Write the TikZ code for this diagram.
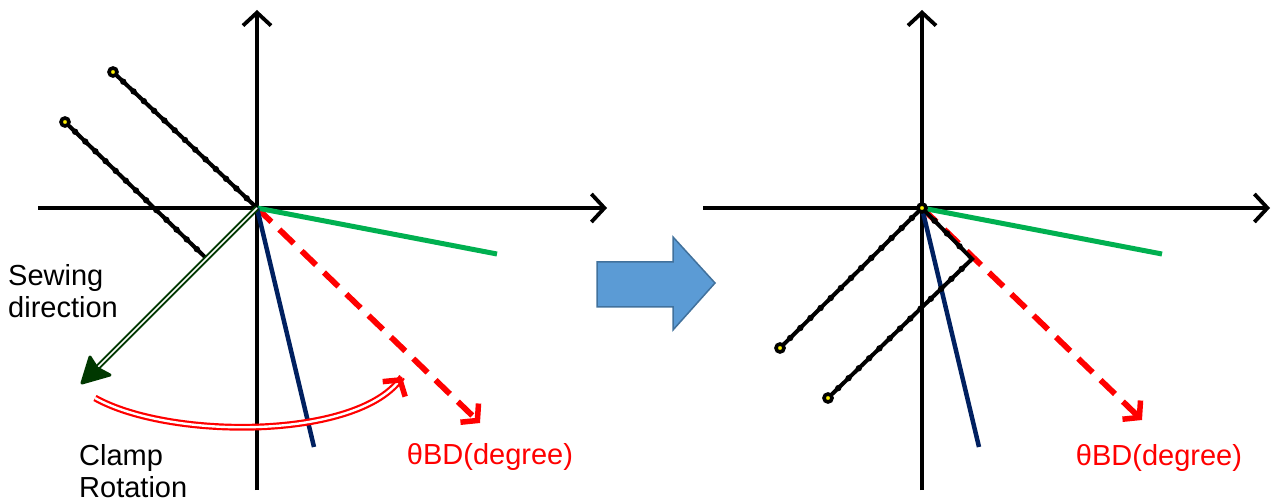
\documentclass[tikz,border=0pt]{standalone}
\usepackage{fontspec}
\setmainfont{Liberation Sans}
\usetikzlibrary{arrows.meta,calc}
\definecolor{linegreen}{RGB}{0,176,80}
\definecolor{linenavy}{RGB}{0,32,96}
\definecolor{sewgreen}{RGB}{0,56,0}
\definecolor{arrowfill}{RGB}{91,155,213}
\definecolor{arrowedge}{RGB}{65,113,156}
\tikzset{
  axis/.style={line width=3.8pt,-{Straight Barb[length=13pt,width=28pt,line width=3.8pt]}},
  seam/.style={line width=4pt,black},
  endpt/.style={fill=yellow,draw=black,line width=3.6pt},
  thetaline/.style={red,line width=5.8pt,dash pattern=on 20pt off 11pt,-{Straight Barb[length=11pt,width=26pt,line width=5.5pt]}},
  lbl/.style={font=\fontsize{29}{32}\selectfont,inner sep=0pt}
}
\begin{document}
\begin{tikzpicture}[x=1pt,y=-1pt]
\useasboundingbox (0,0) rectangle (1277,502);
\coordinate (O1) at (257,208);
\coordinate (O2) at (922,208);
\coordinate (sa1) at (113,72);
\coordinate (sb1) at (65,122);
\coordinate (sb2) at (207,259);
\coordinate (ra1) at (780,348);
\coordinate (rc) at (972,259);
\coordinate (rb2) at (828,398);
\coordinate (sewtip) at (82,383);
\coordinate (rot1) at (95,398);
\coordinate (rot2) at (402,377);

% axes
\draw[axis] (257,490) -- (257,10);
\draw[axis] (38,208) -- (607,208);
\draw[axis] (922,490) -- (922,10);
\draw[axis] (703,208) -- (1270,208);

% left panel
\draw[thetaline] (O1) -- (480,423);
\draw[linegreen,line width=5pt] (O1) -- (497,254);
\draw[linenavy,line width=4.5pt] (O1) -- (314,447);
\draw[seam] (sa1) -- (O1);
\draw[seam] (sb1) -- (sb2);
\foreach \t in {1,...,13} {
  \fill ($(sa1)!{\t/14}!(O1)$) circle (3.2pt);
  \fill ($(sb1)!{\t/14}!(sb2)$) circle (3.2pt);
}
\draw[sewgreen,line width=2pt,double=white,double distance=1.6pt,shorten >=14pt] (O1) -- (sewtip);
\filldraw[sewgreen,line width=3pt,line join=round] (sewtip) -- (90,357) -- (97,368) -- (110,375) -- cycle;
\draw[endpt] (sa1) circle (4pt);
\draw[endpt] (sb1) circle (4pt);
\draw[red,line width=2.2pt,double=white,double distance=2.4pt] (rot1) .. controls (170,440) and (360,440) .. (rot2);
\draw[red,line width=5.5pt,-{Straight Barb[length=11pt,width=27pt,line width=5.5pt]}] ($(rot2)!2pt!(360,440)$) -- (rot2);

\node[lbl,align=left,anchor=north west] (sew) at (8,264) {Sewing\\direction};
\node[lbl,align=left,anchor=north west] (clamp) at (79,444) {Clamp\\Rotation};
\node[lbl,text=red] (theta1) at (490,457) {θBD(degree)};

% block arrow
\draw[fill=arrowfill,draw=arrowedge,line width=1.5pt] (597,262) -- (673,262) -- (673,237) -- (715,283) -- (673,330) -- (673,307) -- (597,307) -- cycle;

% right panel
\draw[thetaline] (O2) -- (1142,420);
\draw[linegreen,line width=5pt] (O2) -- (1162,254);
\draw[linenavy,line width=4.5pt] (O2) -- (979,447);
\draw[seam] (ra1) -- (O2) -- (rc) -- (rb2);
\foreach \t in {1,...,13} {
  \fill ($(O2)!{\t/14}!(ra1)$) circle (3.2pt);
  \fill ($(rc)!{\t/14}!(rb2)$) circle (3.2pt);
}
\foreach \t in {1,...,3}
  \fill ($(O2)!{\t/4}!(rc)$) circle (3.2pt);
\draw[endpt] (O2) circle (4pt);
\draw[endpt] (ra1) circle (4pt);
\draw[endpt] (rb2) circle (4pt);
\node[lbl,text=red] (theta2) at (1159,458) {θBD(degree)};

\end{tikzpicture}
\end{document}
